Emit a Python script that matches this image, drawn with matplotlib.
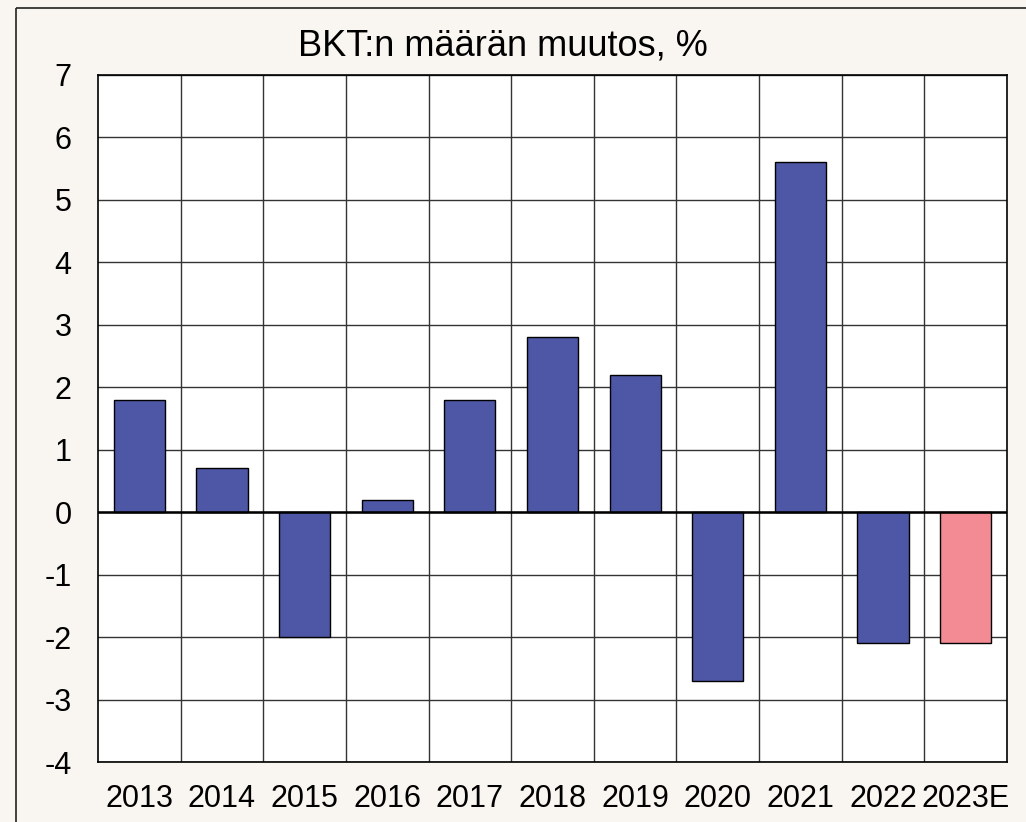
import matplotlib
matplotlib.use("Agg")
import matplotlib.pyplot as plt
from matplotlib.lines import Line2D

plt.rcParams['font.family'] = ['Liberation Sans', 'DejaVu Sans']
plt.rcParams['axes.unicode_minus'] = False

years = ['2013', '2014', '2015', '2016', '2017', '2018', '2019', '2020', '2021', '2022', '2023E']
gdp_change = [1.8, 0.7, -2.0, 0.2, 1.8, 2.8, 2.2, -2.7, 5.6, -2.1, -2.1]
bar_colors = ['#4e57a6'] * 10 + ['#f28b93']

W, H = 1026, 822
fig = plt.figure(figsize=(W / 100, H / 100), dpi=100, facecolor='#f9f5f0')

# kehys: vain vasen ja ylä reuna näkyvät
fig.lines.append(Line2D([16 / W, 16 / W], [0, 1 - 8 / H], transform=fig.transFigure,
                        color='#222222', linewidth=1.2, solid_capstyle='butt'))
fig.lines.append(Line2D([16 / W, 1], [1 - 8 / H, 1 - 8 / H], transform=fig.transFigure,
                        color='#222222', linewidth=1.2, solid_capstyle='butt'))

ax = fig.add_axes([98 / W, 1 - 762 / H, (1007 - 98) / W, (762 - 75) / H])
ax.set_facecolor('white')

x = list(range(len(years)))
ax.bar(x, gdp_change, width=0.62, color=bar_colors, edgecolor='black', linewidth=1, zorder=3)

ax.set_xlim(-0.5, len(years) - 0.5)
ax.set_ylim(-4, 7)
ax.set_yticks(range(-4, 8))
ax.set_xticks(x)
ax.set_xticklabels(years)
ax.set_xticks([i + 0.5 for i in range(len(years) - 1)], minor=True)

ax.grid(True, axis='y', which='major', color='#333333', linewidth=1, zorder=1)
ax.grid(True, axis='x', which='minor', color='#333333', linewidth=1, zorder=1)
ax.axhline(0, color='black', linewidth=1.8, zorder=4)

ax.tick_params(axis='both', which='both', length=0, labelsize=22)
ax.tick_params(axis='y', pad=19)
ax.tick_params(axis='x', pad=16)
for s in ax.spines.values():
    s.set_color('black')
    s.set_linewidth(1.2)

fig.text(503 / W, 1 - 46 / H, 'BKT:n määrän muutos, %', ha='center', va='center', fontsize=26)

fig.savefig('out.png', dpi=100, facecolor=fig.get_facecolor())
